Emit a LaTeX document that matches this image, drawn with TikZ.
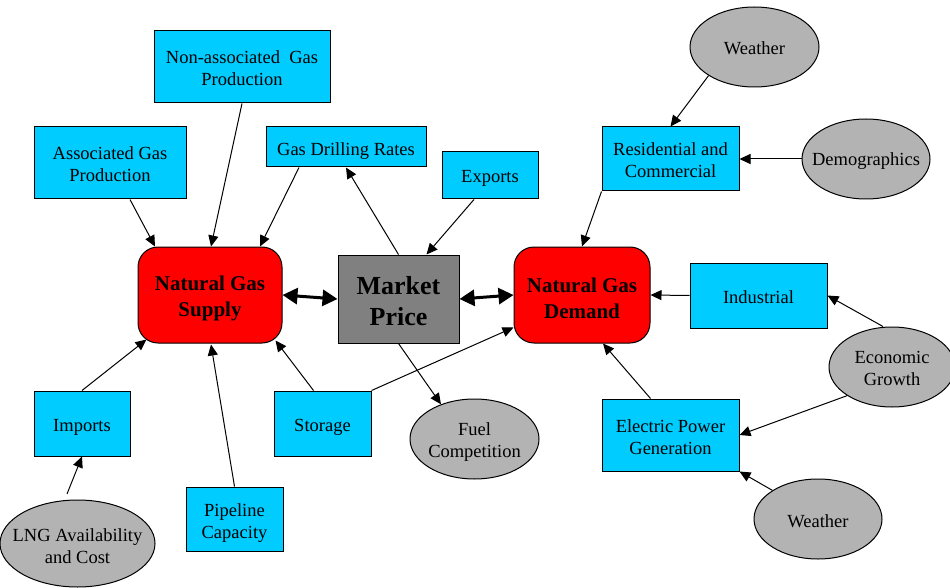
\documentclass[tikz,border=0pt]{standalone}
\usepackage{fontspec}
\setmainfont{Liberation Serif}
\usetikzlibrary{arrows.meta,shapes.geometric}
\definecolor{boxcyan}{HTML}{00CCFF}
\definecolor{hubred}{HTML}{FF0000}
\definecolor{pricegray}{HTML}{808080}
\definecolor{drivergray}{HTML}{B3B3B3}

\begin{document}
\begin{tikzpicture}[x=1pt,y=-1pt,
  every node/.style={inner sep=0pt, align=center},
  dims/.style 2 args={minimum width=#1pt, minimum height=#2pt},
  factor/.style={draw=black, line width=1pt, fill=boxcyan},
  hub/.style={draw=black, line width=1pt, fill=hubred, rounded corners=20pt},
  price/.style={draw=black, line width=1pt, fill=pricegray},
  driver/.style={draw=black, line width=1pt, fill=drivergray, ellipse},
  lab/.style={font=\fontsize{18.5}{22}\selectfont, yshift=-#1pt},
  lab/.default=2,
  hublab/.style={font=\fontsize{21}{26}\selectfont\bfseries, yshift=-3pt},
  pricelab/.style={font=\fontsize{26}{31}\selectfont\bfseries, yshift=-2pt},
  arr/.style={-{Triangle[length=11pt,width=10pt]}, line width=1pt},
  dbl/.style={{Triangle[length=15pt,width=16pt]}-{Triangle[length=15pt,width=16pt]}, line width=3pt}]

\useasboundingbox (0,0) rectangle (950,588);
\clip (0,0) rectangle (950,588);

% central hubs
\node[hub, dims={144}{96}, label={[hublab]center:Natural Gas\\Supply}] (supply) at (210,295) {};
\node[hub, dims={136}{96}, label={[hublab]center:Natural Gas\\Demand}] (demand) at (582,295) {};
\node[price, dims={121}{88}, label={[pricelab]center:Market\\Price}] (market) at (398.5,299) {};

% supply-side factors
\node[factor, dims={176}{72}, label={[lab=1.5]center:Non-associated\ \ Gas\\Production}] (nonassoc) at (242,67) {};
\node[factor, dims={152}{72}, label={[lab=1.5]center:Associated Gas\\Production}] (assoc) at (110,163) {};
\node[factor, dims={160}{40}, label={[lab=4]center:Gas Drilling Rates}] (drilling) at (346,147) {};
\node[factor, dims={96}{47}, label={[lab=3]center:Exports}] (exports) at (490,175.5) {};
\node[factor, dims={96}{65}, label={[lab=4]center:Imports}] (imports) at (82,423.5) {};
\node[factor, dims={97}{64}, label={[lab=4]center:Pipeline\\Capacity}] (pipeline) at (234.5,519) {};
\node[factor, dims={97}{65}, label={[lab=4]center:Storage}] (storage) at (322.5,423.5) {};

% demand-side factors
\node[factor, dims={137}{64}, label={[lab=1]center:Residential and\\Commercial}] (resid) at (670.5,159) {};
\node[factor, dims={137}{65}, label={[lab=1.5]center:Industrial}] (industrial) at (758.5,295.5) {};
\node[factor, dims={137}{72}, label={[lab=2]center:Electric Power\\Generation}] (electric) at (670.5,435) {};

% external drivers
\node[driver, dims={129}{80}, label={[lab=1.5]center:Weather}] (weatherA) at (754.5,47) {};
\node[driver, dims={128}{80}, label={[lab=2]center:Demographics}] (demog) at (866,159) {};
\node[driver, dims={126}{80}, label={[lab=1.5]center:Economic\\Growth}] (econ) at (892,367) {};
\node[driver, dims={128}{80}, label={[lab=2]center:Weather}] (weatherB) at (818,519) {};
\node[driver, dims={129}{80}, label={[lab=3]center:Fuel\\Competition}] (fuel) at (474.5,439) {};
\node[driver, dims={155}{87}, label={[lab=2.5]center:LNG Availability\\and Cost}] (lng) at (77.5,543.5) {};
\coordinate (lngtop) at (67,494);

% price links
\draw[dbl] (supply.east) -- (market.west);
\draw[dbl] (market.east) -- (demand.west);
\draw[arr] (market.north) -- (drilling.south);
\draw[arr] ([xshift=-16pt]exports.south) -- ([xshift=28pt]market.north);
\draw[arr] (market.south) -- (fuel.134);

% into supply
\draw[arr] ([xshift=20pt]assoc.south) -- ([xshift=-55pt]supply.north);
\draw[arr] (nonassoc.south) -- ([xshift=1pt]supply.north);
\draw[arr] ([xshift=-47pt]drilling.south) -- ([xshift=50pt]supply.north);
\draw[arr] (imports.north) -- ([xshift=9pt,yshift=4pt]supply.south west);
\draw[arr] (pipeline.north) -- ([xshift=1pt,yshift=-1pt]supply.south);
\draw[arr] ([xshift=-9pt]storage.north) -- ([xshift=-7pt,yshift=3pt]supply.south east);
\draw[arr] (lngtop) -- (imports.south);

% into demand
\draw[arr] (storage.north east) -- ([yshift=16pt]demand.south west);
\draw[arr] (resid.south west) -- (demand.north);
\draw[arr] (industrial.west) -- (demand.east);
\draw[arr] ([xshift=-20pt]electric.north) -- ([xshift=21pt]demand.south);

% drivers of demand sectors
\draw[arr] (weatherA.south west) -- (resid.north);
\draw[arr] (demog.west) -- (resid.east);
\draw[arr] ([xshift=-9pt]econ.north) -- (industrial.east);
\draw[arr] (econ.south west) -- (electric.east);
\draw[arr] (weatherB.north west) -- (electric.south east);
\end{tikzpicture}
\end{document}
